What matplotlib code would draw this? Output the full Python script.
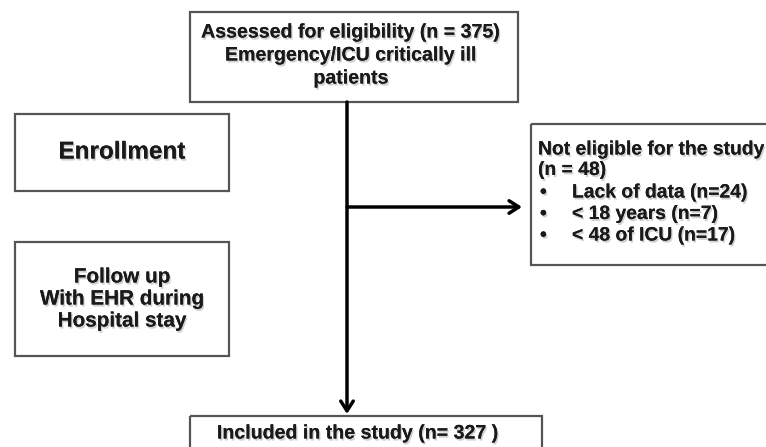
import matplotlib
matplotlib.use("Agg")
import matplotlib.pyplot as plt
from matplotlib.patches import Rectangle
import matplotlib.patheffects as pe

# flowchart content
top_lines = ["Assessed for eligibility (n = 375)", "Emergency/ICU critically ill", "patients"]
phase_labels = [["Enrollment"], ["Follow up", "With EHR during", "Hospital stay"]]
excl_header = ["Not eligible for the study", "(n = 48)"]
excl_items = ["Lack of data (n=24)", "< 18 years (n=7)", "< 48 of ICU (n=17)"]
bottom_label = "Included in the study (n= 327 )"

FONT = ["Liberation Sans", "DejaVu Sans"]
shadow = [pe.withSimplePatchShadow(offset=(1, -1.5), shadow_rgbFace="#999999", alpha=0.45), pe.Normal()]

fig = plt.figure(figsize=(7.66, 4.47), dpi=100)
ax = fig.add_axes([0, 0, 1, 1])
ax.set_xlim(0, 766)
ax.set_ylim(447, 0)
ax.axis("off")

def box(x0, y0, x1, y1):
    ax.add_patch(Rectangle((x0, y0), x1 - x0, y1 - y0, fill=False,
                           edgecolor="#555555", linewidth=1.6))

def txt(x, y, s, ha="center", size=14.1):
    ax.text(x, y, s, ha=ha, va="center", fontsize=size, family=FONT,
            fontweight="bold", color="#1a1a1a", path_effects=shadow)

# boxes
box(190, 12, 518, 102)
box(15, 114, 229, 191)
box(15, 242, 229, 356)
box(531, 124, 790, 265)
box(190, 416, 542, 460)

# top box text
for i, s in enumerate(top_lines):
    txt(351, 32 + 23 * i, s)

# phase labels
txt(122, 152, phase_labels[0][0], size=17.5)
for i, s in enumerate(phase_labels[1]):
    txt(122, 277 + 22 * i, s, size=14.9)

# exclusion box
for i, s in enumerate(excl_header):
    txt(538, 150 + 20.5 * i, s, ha="left", size=13.9)
for i, s in enumerate(excl_items):
    txt(540, 193 + 21.5 * i, "\u2022", ha="left", size=13.9)
    txt(572, 193 + 21.5 * i, s, ha="left", size=13.9)

txt(358, 433, bottom_label)

# arrows
arrow = dict(arrowstyle="->,head_length=0.7,head_width=0.45", color="black", lw=2.5,
             shrinkA=0, shrinkB=0)
ax.annotate("", xy=(347, 414), xytext=(347, 102), arrowprops=arrow)
ax.annotate("", xy=(522, 207), xytext=(347, 207), arrowprops=arrow)

fig.savefig("out.png", dpi=100, facecolor="white")
